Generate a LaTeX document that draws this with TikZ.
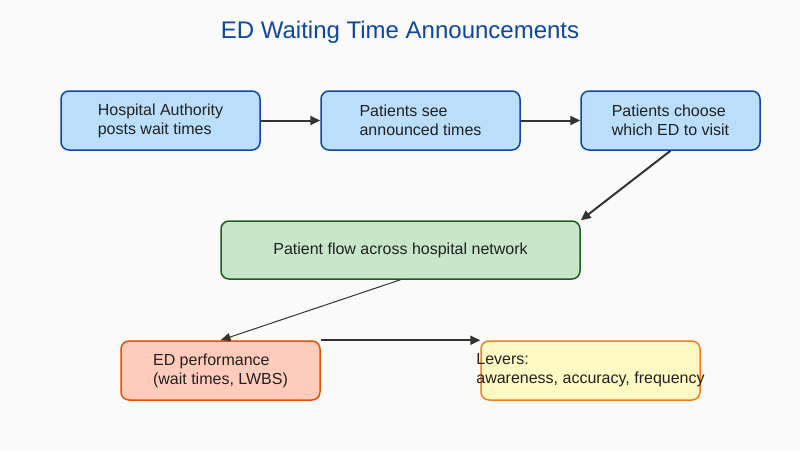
\documentclass[tikz,border=0pt]{standalone}
\usepackage{fontspec}
\setmainfont{Liberation Sans}
\usetikzlibrary{arrows.meta}
\definecolor{bg}{HTML}{FAFAFA}
\definecolor{titleblue}{HTML}{0D47A1}
\definecolor{bluefill}{HTML}{BBDEFB}
\definecolor{blueline}{HTML}{0D47A1}
\definecolor{greenfill}{HTML}{C8E6C9}
\definecolor{greenline}{HTML}{1B5E20}
\definecolor{redfill}{HTML}{FFCCBC}
\definecolor{redline}{HTML}{E65100}
\definecolor{yellowfill}{HTML}{FFF9C4}
\definecolor{yellowline}{HTML}{F57F17}
\definecolor{arrowgray}{HTML}{333333}
\tikzset{
  boxbase/.style={rectangle, rounded corners=8pt, line width=1.5pt, inner sep=0pt},
  bluebox/.style={boxbase, draw=blueline, fill=bluefill},
  greenbox/.style={boxbase, draw=greenline, fill=greenfill},
  redbox/.style={boxbase, draw=redline, fill=redfill},
  yellowbox/.style={boxbase, draw=yellowline, fill=yellowfill},
  boxtext/.style={align=left, inner sep=0pt, text=black!87, font=\fontsize{16}{19}\selectfont},
  conn/.style={draw=arrowgray, line width=2pt, -{Triangle[length=10pt,width=9pt]}},
  thinconn/.style={draw=arrowgray, line width=1pt, -{Triangle[length=10pt,width=8pt]}},
}
\begin{document}
\begin{tikzpicture}[x=1pt,y=-1pt]
\fill[bg] (0,0) rectangle (800,450);
\useasboundingbox (0,0) rectangle (800,450);
\node[text=titleblue, font=\fontsize{24}{28}\selectfont, anchor=base] (title) at (400,38) {ED Waiting Time Announcements};

\node[bluebox, minimum width=199pt, minimum height=59pt] (b1) at (160.5,120.5) {};
\node[boxtext] (t1) at (b1.center) {Hospital Authority\\posts wait times};
\node[bluebox, minimum width=199pt, minimum height=59pt] (b2) at (420.5,120.5) {};
\node[boxtext] (t2) at (b2.center) {Patients see\\announced times};
\node[bluebox, minimum width=179pt, minimum height=59pt] (b3) at (670.5,120.5) {};
\node[boxtext] (t3) at (b3.center) {Patients choose\\which ED to visit};

\node[greenbox, minimum width=359pt, minimum height=58pt] (g) at (400.5,250) {};
\node[boxtext] (tg) at (g.center) {Patient flow across hospital network};

\node[redbox, minimum width=199pt, minimum height=59pt] (r) at (220.5,370.5) {};
\node[boxtext] (tr) at (r.center) {ED performance\\(wait times, LWBS)};
\node[yellowbox, minimum width=219pt, minimum height=59pt] (y) at (590.5,370.5) {};
\node[boxtext] (ty) at (y.center) {Levers:\\awareness, accuracy, frequency};

\draw[conn] (b1.east) -- (b2.west);
\draw[conn] (b2.east) -- (b3.west);
\draw[conn] (b3.south) -- (g.north east);
\draw[thinconn] (g.south) -- (r.north);
\draw[conn] (r.north east) -- (y.north west);
\end{tikzpicture}
\end{document}
